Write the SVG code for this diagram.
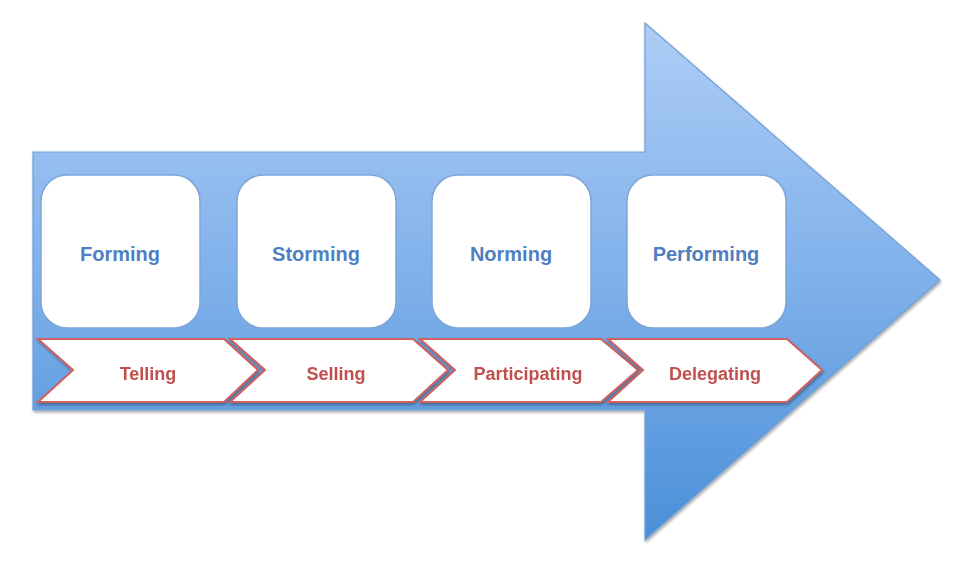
<svg xmlns="http://www.w3.org/2000/svg" width="959" height="564" viewBox="0 0 959 564">
<defs>
<linearGradient id="ag" x1="0" y1="23" x2="0" y2="540" gradientUnits="userSpaceOnUse">
<stop offset="0" stop-color="#aecdf6"/>
<stop offset="0.5" stop-color="#7fb0ea"/>
<stop offset="1" stop-color="#4a8fd8"/>
</linearGradient>
<filter id="sh" x="-5%" y="-5%" width="110%" height="115%">
<feGaussianBlur in="SourceAlpha" stdDeviation="1.5"/>
<feOffset dx="1" dy="2"/>
<feComponentTransfer><feFuncA type="linear" slope="0.35"/></feComponentTransfer>
<feMerge><feMergeNode/><feMergeNode in="SourceGraphic"/></feMerge>
</filter>
</defs>
<style>
.box{fill:#ffffff;stroke:#7ea6d8;stroke-width:1.5}
.chev{fill:#ffffff;stroke:#d0605c;stroke-width:2}
.bt{font-family:"Liberation Sans",Arial,sans-serif;font-weight:bold;font-size:20px;fill:#4f7fc0;text-anchor:middle}
.ct{font-family:"Liberation Sans",Arial,sans-serif;font-weight:bold;font-size:18px;fill:#c0504d;text-anchor:middle}
</style>
<rect width="959" height="564" fill="#ffffff"/>
<g id="arrow">
<path d="M33,152 H645 V23 L940,280 L645,540 V410 H33 Z" fill="url(#ag)" stroke="#6f9fd6" stroke-width="1.2" filter="url(#sh)"/>
</g>
<g id="forming">
<rect class="box" x="41" y="175" width="159" height="153" rx="26"/>
<text class="bt" x="120" y="261">Forming</text>
</g>
<g id="storming">
<rect class="box" x="237" y="175" width="159" height="153" rx="26"/>
<text class="bt" x="316" y="261">Storming</text>
</g>
<g id="norming">
<rect class="box" x="432" y="175" width="159" height="153" rx="26"/>
<text class="bt" x="511" y="261">Norming</text>
</g>
<g id="performing">
<rect class="box" x="627" y="175" width="159" height="153" rx="26"/>
<text class="bt" x="706" y="261">Performing</text>
</g>
<g id="telling" filter="url(#sh)">
<path class="chev" d="M38,339 H224 L258,370 L224,402 H38 L73,370 Z"/>
<text class="ct" x="148" y="380">Telling</text>
</g>
<g id="selling" filter="url(#sh)">
<path class="chev" d="M230,339 H413 L448,370 L413,402 H230 L265,370 Z"/>
<text class="ct" x="336" y="380">Selling</text>
</g>
<g id="participating" filter="url(#sh)">
<path class="chev" d="M420,339 H601 L638,370 L601,402 H420 L455,370 Z"/>
<text class="ct" x="528" y="380">Participating</text>
</g>
<g id="delegating" filter="url(#sh)">
<path class="chev" d="M608,339 H787 L822,370 L787,402 H608 L643,370 Z"/>
<text class="ct" x="715" y="380">Delegating</text>
</g>
<g id="connectors"/>
</svg>
